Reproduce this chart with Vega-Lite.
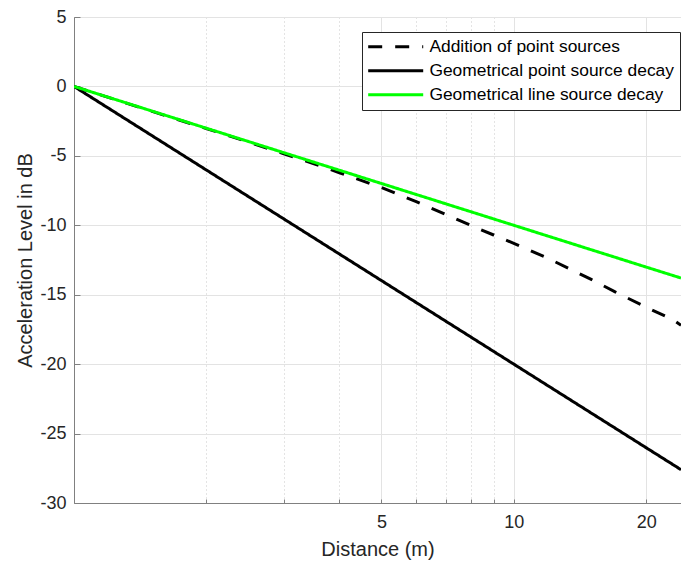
{
  "$schema": "https://vega.github.io/schema/vega-lite/v6.json",
  "width": 607,
  "height": 486,
  "autosize": {"type": "none"},
  "padding": {"left": 74, "top": 17, "right": 0, "bottom": 61},
  "background": "white",
  "config": {
    "font": "Liberation Sans",
    "view": {"stroke": "#808080", "strokeWidth": 1},
    "axis": {
      "domainColor": "#808080",
      "tickColor": "#808080",
      "labelColor": "#262626",
      "titleColor": "#262626",
      "labelFont": "Liberation Sans",
      "titleFont": "Liberation Sans",
      "titleFontWeight": "normal",
      "labelFontSize": 18,
      "titleFontSize": 20,
      "gridColor": "#e3e3e3",
      "gridOpacity": 1
    },
    "legend": {
      "padding": 6,
      "strokeColor": "#262626",
      "fillColor": "white",
      "labelFont": "Liberation Sans",
      "labelFontSize": 17.4,
      "labelColor": "#000000",
      "labelLimit": 400,
      "symbolType": "M-3.93,0H3.93",
      "symbolSize": 196,
      "symbolStrokeWidth": 3,
      "symbolOffset": 19,
      "labelOffset": 25,
      "rowPadding": 5,
      "cornerRadius": 0
    }
  },
  "data": {
    "values": [
      {"distance": 1, "level": 0, "series": "Addition of point sources"},
      {"distance": 1.5, "level": -1.78, "series": "Addition of point sources"},
      {"distance": 2, "level": -3.04, "series": "Addition of point sources"},
      {"distance": 2.5, "level": -4.02, "series": "Addition of point sources"},
      {"distance": 3, "level": -4.85, "series": "Addition of point sources"},
      {"distance": 3.5, "level": -5.55, "series": "Addition of point sources"},
      {"distance": 4, "level": -6.2, "series": "Addition of point sources"},
      {"distance": 5, "level": -7.28, "series": "Addition of point sources"},
      {"distance": 6, "level": -8.3, "series": "Addition of point sources"},
      {"distance": 7, "level": -9.22, "series": "Addition of point sources"},
      {"distance": 8, "level": -10.02, "series": "Addition of point sources"},
      {"distance": 9, "level": -10.7, "series": "Addition of point sources"},
      {"distance": 10, "level": -11.3, "series": "Addition of point sources"},
      {"distance": 12, "level": -12.4, "series": "Addition of point sources"},
      {"distance": 15, "level": -13.9, "series": "Addition of point sources"},
      {"distance": 17, "level": -14.8, "series": "Addition of point sources"},
      {"distance": 20, "level": -15.9, "series": "Addition of point sources"},
      {"distance": 23, "level": -16.8, "series": "Addition of point sources"},
      {"distance": 24, "level": -17.2, "series": "Addition of point sources"},
      {"distance": 1, "level": 0, "series": "Geometrical point source decay"},
      {"distance": 2, "level": -6.02, "series": "Geometrical point source decay"},
      {"distance": 5, "level": -13.98, "series": "Geometrical point source decay"},
      {"distance": 10, "level": -20, "series": "Geometrical point source decay"},
      {"distance": 20, "level": -26.02, "series": "Geometrical point source decay"},
      {"distance": 24, "level": -27.6, "series": "Geometrical point source decay"},
      {"distance": 1, "level": 0, "series": "Geometrical line source decay"},
      {"distance": 2, "level": -3.01, "series": "Geometrical line source decay"},
      {"distance": 5, "level": -6.99, "series": "Geometrical line source decay"},
      {"distance": 10, "level": -10, "series": "Geometrical line source decay"},
      {"distance": 20, "level": -13.01, "series": "Geometrical line source decay"},
      {"distance": 24, "level": -13.8, "series": "Geometrical line source decay"}
    ]
  },
  "mark": {"type": "line", "strokeWidth": 3, "clip": true},
  "encoding": {
    "x": {
      "field": "distance",
      "type": "quantitative",
      "scale": {"type": "log", "domain": [1, 24], "nice": false},
      "axis": {
        "title": "Distance (m)",
        "values": [2, 3, 4, 5, 6, 7, 8, 9, 10, 20],
        "labelExpr": "indexof([5,10,20], datum.value) >= 0 ? toString(datum.value) : ''",
        "gridDash": {"condition": {"test": "indexof([5,10,20], datum.value) >= 0", "value": []}, "value": [1, 3]},
        "gridColor": {"condition": {"test": "indexof([5,10,20], datum.value) >= 0", "value": "#e3e3e3"}, "value": "#c8c8c8"},
        "tickSize": -4,
        "labelPadding": 14,
        "titlePadding": 8,
        "labelOverlap": false,
        "labelFlush": false
      }
    },
    "y": {
      "field": "level",
      "type": "quantitative",
      "scale": {"domain": [-30, 5], "nice": false},
      "axis": {
        "title": "Acceleration Level in dB",
        "values": [-30, -25, -20, -15, -10, -5, 0, 5],
        "labelExpr": "toString(datum.value)",
        "tickSize": -6,
        "labelPadding": 14,
        "titlePadding": 4
      }
    },
    "color": {
      "field": "series",
      "type": "nominal",
      "scale": {
        "domain": ["Addition of point sources", "Geometrical point source decay", "Geometrical line source decay"],
        "range": ["#000000", "#000000", "#00ff00"]
      },
      "legend": {"title": null, "orient": "none", "legendX": 288, "legendY": 15}
    },
    "strokeDash": {
      "field": "series",
      "type": "nominal",
      "scale": {
        "domain": ["Addition of point sources", "Geometrical point source decay", "Geometrical line source decay"],
        "range": [[14, 13], [1, 0], [1, 0]]
      },
      "legend": {"title": null, "orient": "none", "legendX": 288, "legendY": 15}
    }
  }
}
